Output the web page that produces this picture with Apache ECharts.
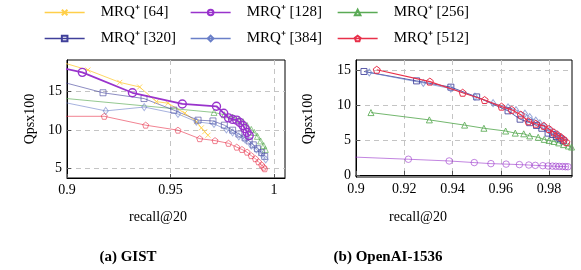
<!DOCTYPE html>
<html>
<head>
<meta charset="utf-8">
<script src="https://cdn.jsdelivr.net/npm/echarts@6.0.0/dist/echarts.min.js"></script>
<style>
  html, body { margin: 0; padding: 0; background: #fff; }
  #chart { width: 581px; height: 270px; }
</style>
</head>
<body>
<div id="chart"></div>
<script>
// legend / series names
const names = ['MRQ⁺ [64]', 'MRQ⁺ [128]', 'MRQ⁺ [256]', 'MRQ⁺ [320]', 'MRQ⁺ [384]', 'MRQ⁺ [512]'];

// tick values
const gistXTicks = [0.9, 0.95, 1];
const gistYTicks = [5, 10, 15];
const openaiXTicks = [0.9, 0.92, 0.94, 0.96, 0.98];
const openaiYTicks = [0, 5, 10, 15];

// (a) GIST : [recall@20, Qps/100]
const gist64 = [[0.895, 19.0], [0.9101, 17.8], [0.9255, 16.2], [0.9351, 15.6], [0.9432, 13.7], [0.9488, 13.5],
  [0.9569, 12.2], [0.9625, 11.1], [0.9649, 10.3], [0.9665, 9.8], [0.9681, 9.35]];
const gist128 = [[0.895, 18.2], [0.9074, 17.5], [0.9316, 14.85], [0.9557, 13.4], [0.9722, 13.1], [0.9757, 12.2],
  [0.978, 11.6], [0.980, 11.4], [0.982, 11.3], [0.9835, 11.0], [0.985, 10.6], [0.986, 10.2], [0.987, 9.7], [0.988, 9.3]];
const gist256 = [[0.89, 14.35], [0.971, 12.3], [0.976, 12.0], [0.980, 11.7], [0.983, 11.4], [0.985, 11.1], [0.987, 10.6],
  [0.989, 10.1], [0.9905, 9.7], [0.992, 9.2], [0.9935, 8.6], [0.995, 8.0], [0.9958, 7.5]];
const gist320 = [[0.897, 16.3], [0.9174, 14.85], [0.9372, 14.1], [0.9516, 12.6], [0.9633, 11.3], [0.9705, 11.2],
  [0.976, 10.65], [0.980, 10.0], [0.983, 9.5], [0.986, 9.0], [0.988, 8.6], [0.990, 8.1], [0.992, 7.6], [0.994, 7.1], [0.9955, 6.6]];
const gist384 = [[0.895, 13.8], [0.9187, 12.5], [0.9373, 13.0], [0.9536, 12.1], [0.9625, 11.1], [0.971, 10.8],
  [0.977, 10.1], [0.980, 9.7], [0.983, 9.2], [0.986, 8.8], [0.989, 8.0], [0.9915, 7.5], [0.994, 6.9], [0.996, 6.2]];
const gist512 = [[0.89, 11.8], [0.918, 11.8], [0.938, 10.65], [0.9536, 10.0], [0.9641, 8.9], [0.9715, 8.65], [0.978, 8.3],
  [0.982, 7.8], [0.9845, 7.5], [0.987, 7.15], [0.989, 6.7], [0.991, 6.3], [0.9925, 5.9], [0.994, 5.5], [0.995, 5.2], [0.9955, 5.0]];

// (b) OpenAI-1536
const openai128 = [[0.895, 2.62], [0.9217, 2.25], [0.9386, 2.0], [0.949, 1.77], [0.9559, 1.62], [0.9622, 1.55], [0.9677, 1.48],
  [0.9716, 1.42], [0.9743, 1.37], [0.9774, 1.32], [0.9796, 1.28], [0.9814, 1.26], [0.9828, 1.24], [0.9842, 1.22],
  [0.9856, 1.2], [0.9868, 1.18], [0.9878, 1.17]];
const openai256 = [[0.9062, 8.95], [0.9304, 7.9], [0.945, 7.15], [0.953, 6.7], [0.962, 6.3], [0.966, 6.0], [0.9695, 5.9],
  [0.972, 5.6], [0.9755, 5.4], [0.978, 5.1], [0.980, 4.95], [0.982, 4.8], [0.984, 4.6], [0.986, 4.35], [0.988, 4.15], [0.9893, 4.0]];
const openai320 = [[0.9033, 14.85], [0.9251, 13.5], [0.9393, 12.6], [0.950, 11.2], [0.963, 9.2], [0.968, 8.0], [0.972, 7.5],
  [0.9748, 7.1], [0.977, 6.7], [0.9796, 6.0], [0.9815, 5.8], [0.983, 5.5], [0.9845, 5.2], [0.986, 4.9]];
const openai384 = [[0.9055, 14.7], [0.9279, 13.2], [0.9393, 12.4], [0.9493, 11.25], [0.9568, 10.3], [0.963, 9.7], [0.9663, 9.3],
  [0.970, 8.8], [0.972, 8.3], [0.9745, 7.8], [0.9762, 7.4], [0.978, 7.0], [0.9803, 6.45], [0.982, 6.1], [0.9835, 5.8],
  [0.985, 5.4], [0.9865, 5.0]];
const openai512 = [[0.9086, 15.1], [0.9306, 13.4], [0.9442, 11.8], [0.9533, 10.75], [0.9603, 9.8], [0.9645, 9.35], [0.9683, 8.65],
  [0.9714, 7.7], [0.9745, 7.35], [0.9778, 7.05], [0.980, 6.6], [0.982, 6.1], [0.9835, 5.75], [0.985, 5.4], [0.9862, 5.05], [0.9872, 4.7]];

const FONT = 'Liberation Serif';
const colors = ['#ffcf4a', '#9933cc', '#5aaa55', '#40409a', '#6a7fc8', '#e8304a'];
const symbols = [
  'path://M0,0L10,10M10,0L0,10',
  'circle',
  'triangle',
  'rect',
  'diamond',
  'path://M0,-10L9.51,-3.09L5.88,8.09L-5.88,8.09L-9.51,-3.09Z'
];

// builds one line series; idx picks colour/marker, g picks the grid
function line(idx, data, g, opt) {
  return {
    name: names[idx], type: 'line', xAxisIndex: g, yAxisIndex: g, data: data,
    symbol: symbols[idx], symbolSize: opt.size, clip: true, z: opt.z || 2,
    lineStyle: { color: colors[idx], width: opt.width, opacity: opt.opacity },
    itemStyle: { color: 'transparent', borderColor: colors[idx], borderWidth: opt.bw || 1, opacity: opt.opacity }
  };
}

const series = [
  line(0, gist64, 0, { size: 5, width: 1, opacity: 0.85 }),
  line(2, gist256, 0, { size: 6, width: 1, opacity: 0.65 }),
  line(3, gist320, 0, { size: 6, width: 1, opacity: 0.6 }),
  line(4, gist384, 0, { size: [5, 7], width: 1, opacity: 0.6 }),
  line(5, gist512, 0, { size: 6, width: 1, opacity: 0.6 }),
  line(1, gist128, 0, { size: 8, width: 1.8, opacity: 1, bw: 1.4, z: 5 }),

  line(1, openai128, 1, { size: 6.5, width: 1, opacity: 0.6 }),
  line(2, openai256, 1, { size: 6, width: 1, opacity: 0.85 }),
  line(3, openai320, 1, { size: 6, width: 1, opacity: 0.85 }),
  line(4, openai384, 1, { size: [5, 7], width: 1, opacity: 0.7 }),
  line(5, openai512, 1, { size: 7, width: 1.2, opacity: 1, z: 5 })
];

const legendPos = [[44, 5], [190, 5], [337, 5], [44, 31], [190, 31], [337, 31]];
const legends = names.map((n, i) => ({
  data: [n], left: legendPos[i][0], top: legendPos[i][1], padding: 0,
  itemWidth: 40, itemHeight: 7, selectedMode: false,
  lineStyle: { opacity: 1, width: 1.3 }, itemStyle: { opacity: 1 },
  textStyle: { fontFamily: FONT, fontSize: 15, color: '#000', padding: [0, 0, 0, 11] }
}));

function xAxis(g, min, max, ticks) {
  return {
    type: 'value', gridIndex: g, min: min, max: max,
    axisLine: { show: true, lineStyle: { color: '#000', width: 1 } },
    axisTick: { show: true, inside: true, length: 4, customValues: ticks, lineStyle: { color: '#555' } },
    axisLabel: { customValues: ticks, fontFamily: FONT, fontSize: 14, color: '#000', margin: 5 },
    splitLine: { show: true, lineStyle: { color: '#c4c4c4', type: [5, 4], width: 1 } }
  };
}
function yAxis(g, min, max, ticks) {
  return {
    type: 'value', gridIndex: g, min: min, max: max,
    axisLine: { show: true, lineStyle: { color: '#000', width: 1 } },
    axisTick: { show: true, inside: true, length: 4, customValues: ticks, lineStyle: { color: '#555' } },
    axisLabel: { customValues: ticks, fontFamily: FONT, fontSize: 14, color: '#000', margin: 5 },
    splitLine: { show: true, lineStyle: { color: '#c4c4c4', type: [5, 4], width: 1 } }
  };
}

function label(text, x, y, size, bold, rotate) {
  return {
    type: 'text', x: x, y: y, rotation: rotate ? Math.PI / 2 : 0,
    style: { text: text, fill: '#000', font: (bold ? 'bold ' : '') + size + 'px "' + FONT + '"',
      align: 'center', verticalAlign: 'middle', textAlign: 'center', textVerticalAlign: 'middle' }
  };
}

const chart = echarts.init(document.getElementById('chart'), null, { renderer: 'canvas' });
chart.setOption({
  animation: false,
  backgroundColor: '#fff',
  legend: legends,
  grid: [
    { left: 67, top: 60, width: 218, height: 118, show: true, borderColor: '#000', borderWidth: 1, backgroundColor: 'transparent' },
    { left: 356, top: 60, width: 216, height: 117, show: true, borderColor: '#000', borderWidth: 1, backgroundColor: 'transparent' }
  ],
  xAxis: [xAxis(0, 0.9, 1.0053, gistXTicks), xAxis(1, 0.9, 0.9895, openaiXTicks)],
  yAxis: [yAxis(0, 3.8, 19.1, gistYTicks), yAxis(1, -0.3, 16.5, openaiYTicks)],
  graphic: [
    label('Qpsx100', 30, 119, 14, false, true),
    label('Qpsx100', 308, 119, 14, false, true),
    label('recall@20', 158, 217, 14, false, false),
    label('recall@20', 418, 217, 14, false, false),
    label('(a) GIST', 128, 257, 15, true, false),
    label('(b) OpenAI-1536', 388, 257, 15, true, false)
  ],
  series: series
});
</script>
</body>
</html>
